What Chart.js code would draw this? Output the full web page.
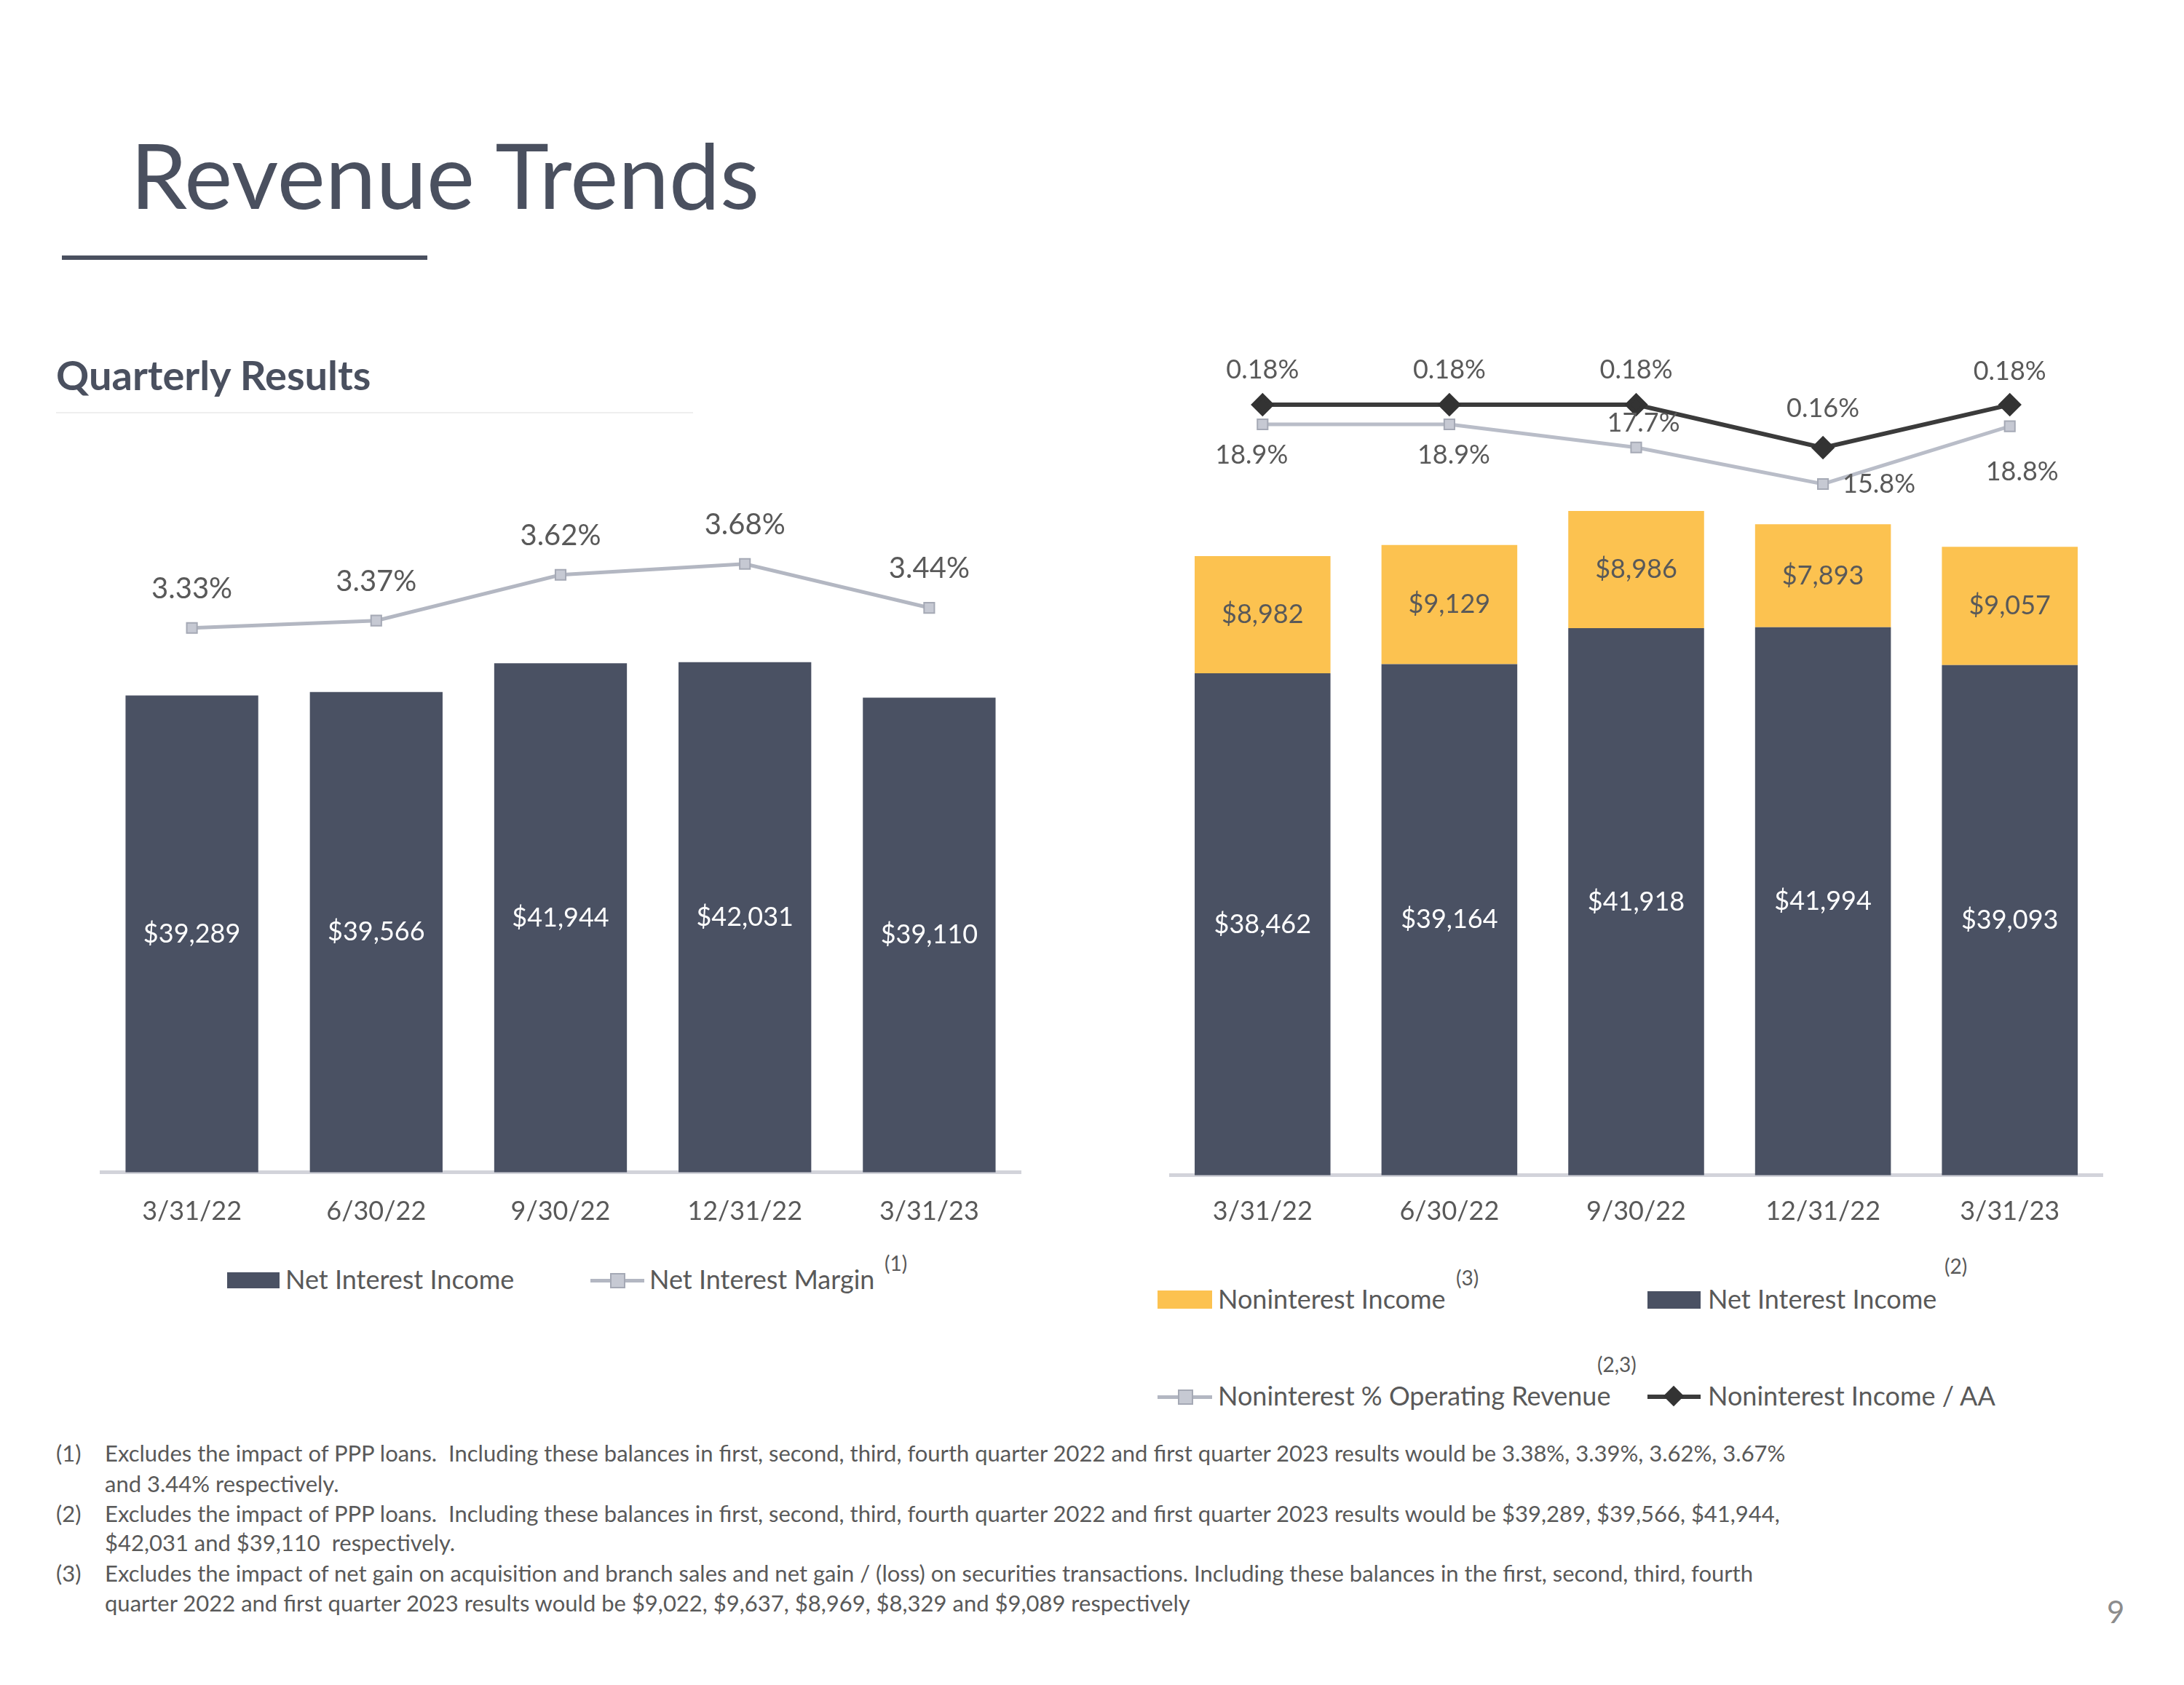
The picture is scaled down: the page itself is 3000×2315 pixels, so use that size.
<!DOCTYPE html>
<html>
<head>
<meta charset="utf-8">
<script src="https://cdn.jsdelivr.net/npm/chart.js@4.4.0/dist/chart.umd.min.js"></script>
<style>
  html, body { margin: 0; padding: 0; background: #fff; }
  #page { position: relative; width: 3000px; height: 2315px; background: #fff; overflow: hidden; font-family: Lato, "Open Sans", sans-serif; color: #595959; }
  .t { position: absolute; white-space: pre; line-height: 1; }
  .leg { font-size: 36px; }
  .sup { font-size: 28px; }
  .fn { font-size: 31px; }
  canvas { position: absolute; }
</style>
</head>
<body>
<div id="page">
  <div class="t" style="left:179px;top:177px;font-size:125px;color:#4a505f;">Revenue Trends</div>
  <div style="position:absolute;left:85px;top:351px;width:502px;height:6px;background:#4a505f;"></div>
  <div class="t" style="left:77px;top:487px;font-size:56px;font-weight:bold;color:#4a505f;">Quarterly Results</div>
  <div style="position:absolute;left:77px;top:566px;width:875px;height:2px;background:#efefef;"></div>

  <canvas id="left" width="1266" height="1108" style="left:137px;top:610px;"></canvas>
  <canvas id="right" width="1283" height="1229" style="left:1606px;top:485px;"></canvas>

  <!-- left legend -->
  <div style="position:absolute;left:312px;top:1748px;width:72px;height:22px;background:#4a5163;"></div>
  <div class="t leg" style="left:392px;top:1739px;">Net Interest Income</div>
  <div style="position:absolute;left:811px;top:1757px;width:74px;height:5px;background:#b3b7c2;"></div>
  <div style="position:absolute;left:838px;top:1749px;width:17px;height:17px;background:#c6c9d3;border:2px solid #a5a9b5;"></div>
  <div class="t leg" style="left:892px;top:1739px;">Net Interest Margin</div>
  <div class="t sup" style="left:1215px;top:1721px;">(1)</div>

  <!-- right legend -->
  <div style="position:absolute;left:1590px;top:1773px;width:75px;height:25px;background:#fcc250;"></div>
  <div class="t leg" style="left:1673px;top:1766px;">Noninterest Income</div>
  <div class="t sup" style="left:2000px;top:1741px;">(3)</div>
  <div style="position:absolute;left:2263px;top:1774px;width:73px;height:24px;background:#4a5163;"></div>
  <div class="t leg" style="left:2346px;top:1766px;">Net Interest Income</div>
  <div class="t sup" style="left:2671px;top:1725px;">(2)</div>

  <div style="position:absolute;left:1590px;top:1917px;width:75px;height:5px;background:#b3b7c2;"></div>
  <div style="position:absolute;left:1618px;top:1909px;width:17px;height:17px;background:#c6c9d3;border:2px solid #a5a9b5;"></div>
  <div class="t leg" style="left:1673px;top:1899px;">Noninterest % Operating Revenue</div>
  <div class="t sup" style="left:2194px;top:1860px;">(2,3)</div>
  <div style="position:absolute;left:2263px;top:1916px;width:73px;height:6px;background:#3b3b3b;"></div>
  <div style="position:absolute;left:2289px;top:1908px;width:20px;height:20px;background:#333;transform:rotate(45deg);"></div>
  <div class="t leg" style="left:2346px;top:1899px;">Noninterest Income / AA</div>

  <!-- footnotes -->
  <div class="t fn" style="left:77px;top:1981px;">(1)</div>
  <div class="t fn" style="left:144px;top:1981px;">Excludes the impact of PPP loans.  Including these balances in first, second, third, fourth quarter 2022 and first quarter 2023 results would be 3.38%, 3.39%, 3.62%, 3.67%</div>
  <div class="t fn" style="left:144px;top:2023px;">and 3.44% respectively.</div>
  <div class="t fn" style="left:77px;top:2064px;">(2)</div>
  <div class="t fn" style="left:144px;top:2064px;">Excludes the impact of PPP loans.  Including these balances in first, second, third, fourth quarter 2022 and first quarter 2023 results would be $39,289, $39,566, $41,944,</div>
  <div class="t fn" style="left:144px;top:2104px;">$42,031 and $39,110  respectively.</div>
  <div class="t fn" style="left:77px;top:2146px;">(3)</div>
  <div class="t fn" style="left:144px;top:2146px;">Excludes the impact of net gain on acquisition and branch sales and net gain / (loss) on securities transactions. Including these balances in the first, second, third, fourth</div>
  <div class="t fn" style="left:144px;top:2187px;">quarter 2022 and first quarter 2023 results would be $9,022, $9,637, $8,969, $8,329 and $9,089 respectively</div>

  <div class="t" style="left:2894px;top:2193px;font-size:42px;color:#8c8c8c;">9</div>
</div>

<script>
// quarters
var quarters = ['3/31/22', '6/30/22', '9/30/22', '12/31/22', '3/31/23'];

// left chart, $ thousands and %
var netInterestIncome = [39289, 39566, 41944, 42031, 39110];
var netInterestMargin = [3.33, 3.37, 3.62, 3.68, 3.44];

// right chart
var niiRight = [38462, 39164, 41918, 41994, 39093];
var noninterestIncome = [8982, 9129, 8986, 7893, 9057];
var nonintPctOpRev = [18.9, 18.9, 17.7, 15.8, 18.8];
var nonintToAA = [0.18, 0.18, 0.18, 0.16, 0.18];

var DARK = '#4a5163';
var YELLOW = '#fcc250';
var TEXT = '#595959';

function money(v) { return '$' + v.toLocaleString('en-US'); }

// draws the value labels (no datalabels plugin available)
var valueLabels = {
	id: 'valueLabels',
	afterDatasetsDraw: function(chart) {
		var ctx = chart.ctx;
		chart.data.datasets.forEach(function(ds, i) {
			var lab = ds.valueLabel;
			if (!lab) return;
			var meta = chart.getDatasetMeta(i);
			meta.data.forEach(function(el, j) {
				var x = el.x, y = el.y;
				if (meta.type === 'bar') y = (el.y + el.base) / 2;
				if (lab.dx) x += lab.dx[j];
				if (lab.dy) y += lab.dy[j];
				ctx.save();
				ctx.font = lab.size + 'px Lato';
				ctx.fillStyle = lab.color;
				ctx.textAlign = 'center';
				ctx.textBaseline = 'middle';
				ctx.fillText(lab.format(ds.data[j]), x, y);
				ctx.restore();
			});
		});
	}
};

function xAxis(pad) {
	return {
		grid: { display: false, drawTicks: false },
		border: { display: true, color: '#d2d3da', width: 5 },
		ticks: { color: TEXT, font: { family: 'Lato', size: 36 }, padding: pad }
	};
}

new Chart(document.getElementById('left'), {
	type: 'bar',
	data: {
		labels: quarters,
		datasets: [
			{
				type: 'line',
				label: 'Net Interest Margin',
				data: netInterestMargin,
				yAxisID: 'y2',
				order: 0,
				borderColor: '#b3b7c2',
				borderWidth: 5,
				pointStyle: 'rect',
				pointRadius: 10,
				pointBackgroundColor: '#c6c9d3',
				pointBorderColor: '#a5a9b5',
				pointBorderWidth: 2,
				valueLabel: { size: 40, color: TEXT, dy: [-54, -54, -54, -54, -54], format: function(v) { return v.toFixed(2) + '%'; } }
			},
			{
				label: 'Net Interest Income',
				data: netInterestIncome,
				yAxisID: 'y',
				order: 1,
				backgroundColor: DARK,
				categoryPercentage: 1,
				barPercentage: 0.72,
				valueLabel: { size: 36, color: '#ffffff', format: money }
			}
		]
	},
	options: {
		responsive: false,
		devicePixelRatio: 1,
		animation: false,
		layout: { padding: 0, autoPadding: false },
		plugins: { legend: { display: false }, tooltip: { enabled: false } },
		scales: {
			x: xAxis(32),
			y: { display: false, min: 0, max: 60000 },
			y2: { display: false, min: 0.355, max: 4.335 }
		}
	},
	plugins: [valueLabels]
});

new Chart(document.getElementById('right'), {
	type: 'bar',
	data: {
		labels: quarters,
		datasets: [
			{
				type: 'line',
				label: 'Noninterest Income / AA',
				data: nonintToAA,
				yAxisID: 'y2',
				order: 0,
				borderColor: '#3b3b3b',
				borderWidth: 6,
				pointStyle: 'rectRot',
				pointRadius: 12,
				pointBackgroundColor: '#333333',
				pointBorderColor: '#333333',
				valueLabel: { size: 36, color: TEXT, dy: [-48, -48, -48, -54, -46], format: function(v) { return v.toFixed(2) + '%'; } }
			},
			{
				type: 'line',
				label: 'Noninterest % Operating Revenue',
				data: nonintPctOpRev,
				yAxisID: 'y3',
				order: 0,
				borderColor: '#b9bdc8',
				borderWidth: 5,
				pointStyle: 'rect',
				pointRadius: 10,
				pointBackgroundColor: '#c6c9d3',
				pointBorderColor: '#a5a9b5',
				pointBorderWidth: 2,
				valueLabel: { size: 36, color: TEXT, dx: [-15, 6, 10, 77, 17], dy: [42, 42, -33, 0, 63], format: function(v) { return v.toFixed(1) + '%'; } }
			},
			{
				label: 'Net Interest Income',
				data: niiRight,
				yAxisID: 'y',
				order: 1,
				backgroundColor: DARK,
				categoryPercentage: 1,
				barPercentage: 0.727,
				valueLabel: { size: 36, color: '#ffffff', format: money }
			},
			{
				label: 'Noninterest Income',
				data: noninterestIncome,
				yAxisID: 'y',
				order: 1,
				backgroundColor: YELLOW,
				categoryPercentage: 1,
				barPercentage: 0.727,
				valueLabel: { size: 36, color: TEXT, format: money }
			}
		]
	},
	options: {
		responsive: false,
		devicePixelRatio: 1,
		animation: false,
		layout: { padding: 0, autoPadding: false },
		plugins: { legend: { display: false }, tooltip: { enabled: false } },
		scales: {
			x: Object.assign(xAxis(28), { stacked: true }),
			y: { display: false, stacked: true, min: 0, max: 63000 },
			y2: { display: false, min: -0.179, max: 0.2041 },
			y3: { display: false, min: -20.12, max: 22.605 }
		}
	},
	plugins: [valueLabels]
});
</script>
</body>
</html>
